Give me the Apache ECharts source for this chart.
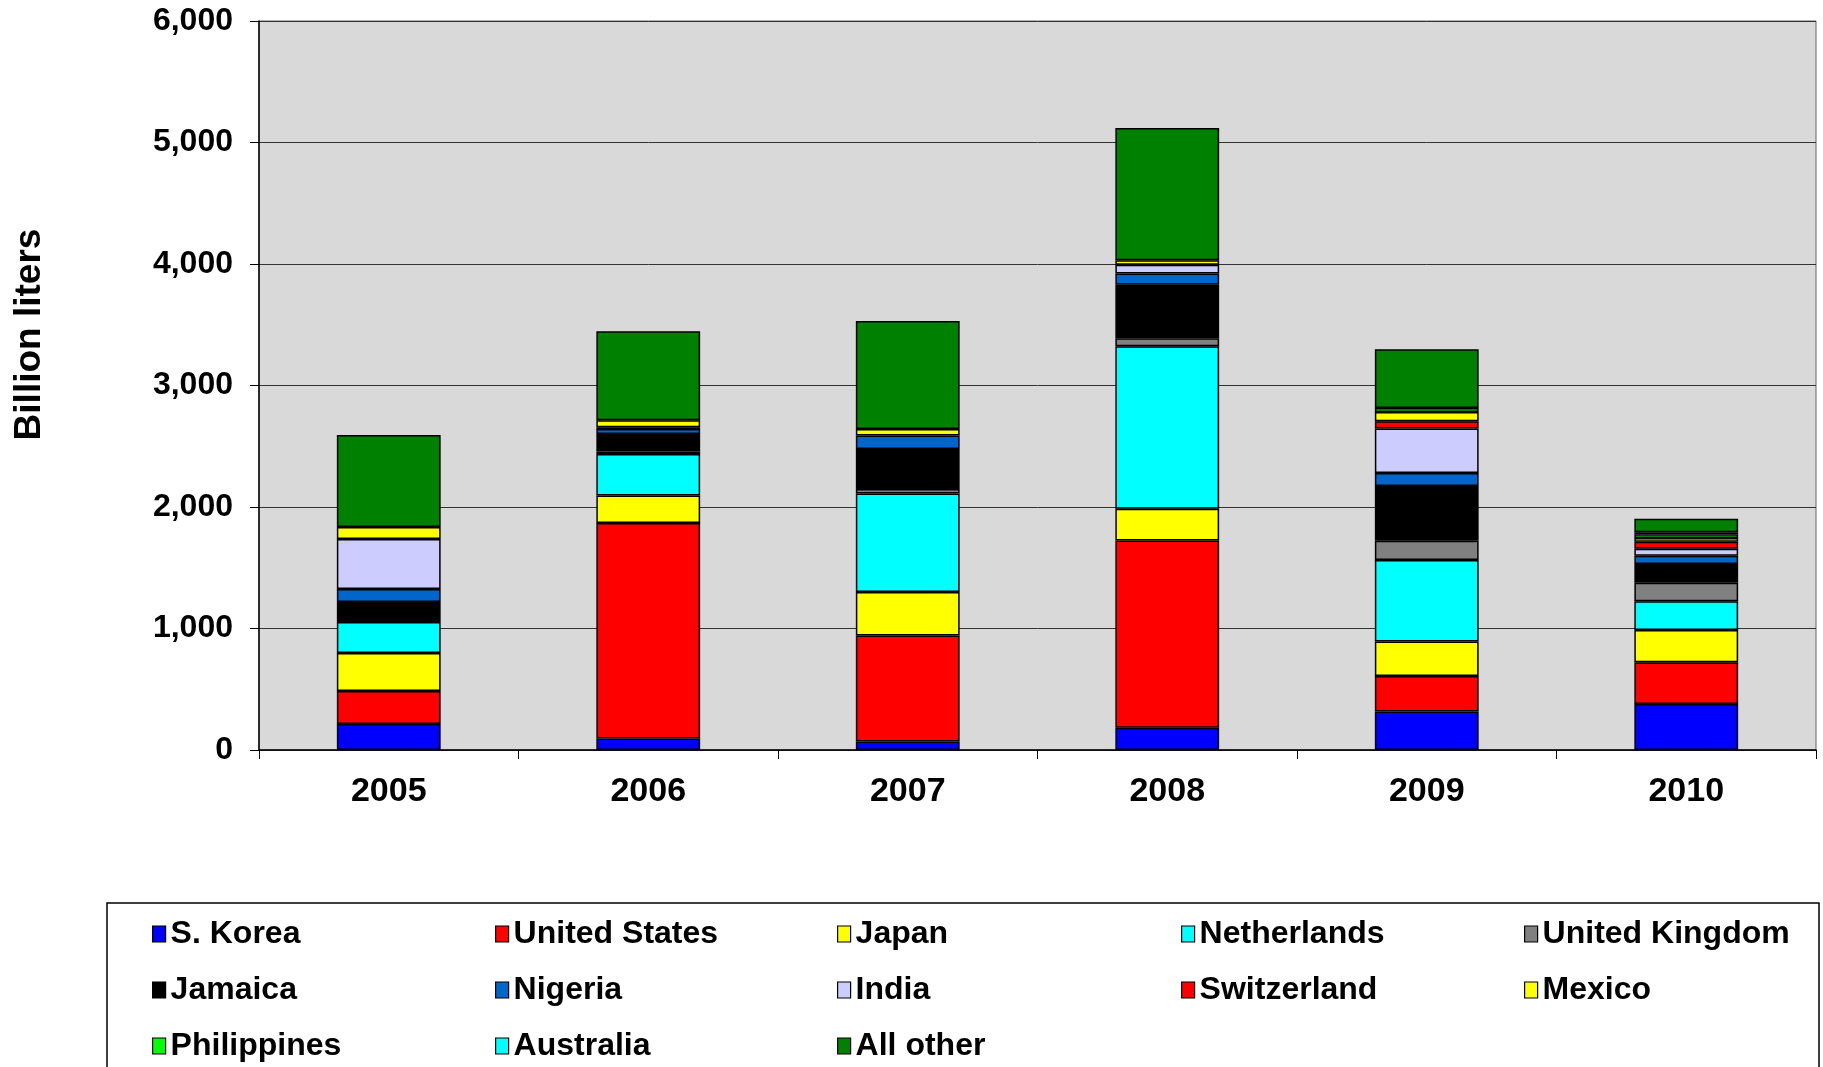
<!DOCTYPE html>
<html>
<head>
<meta charset="utf-8">
<script src="https://cdn.jsdelivr.net/npm/echarts@6/dist/echarts.min.js"></script>
<style>
html,body{margin:0;padding:0;background:#fff;}
#chart{width:1823px;height:1067px;}
</style>
</head>
<body>
<div id="chart"></div>
<script>
const categories = ['2005', '2006', '2007', '2008', '2009', '2010'];
const yTicks = [0, 1000, 2000, 3000, 4000, 5000, 6000];

const sKorea        = [214, 95, 70, 184, 316, 379];
const unitedStates  = [272, 1773, 872, 1540, 293, 343];
const japan         = [312, 227, 358, 262, 283, 266];
const netherlands   = [255, 341, 811, 1338, 672, 236];
const unitedKingdom = [null, 21, 37, 65, 159, 153];
const jamaica       = [165, 144, 329, 440, 450, 154];
const nigeria       = [107, 41, 111, 93, 107, 68];
const india         = [412, 15, null, 71, 367, 58];
const switzerland   = [null, null, null, null, 58, 58];
const mexico        = [98, 58, 54, 38, 77, 30];
const philippines   = [null, null, null, null, 33, 30];
const australia     = [null, null, null, null, null, 17];
const allOther      = [758, 732, 889, 1088, 483, 112];

const seriesNames = ['S. Korea', 'United States', 'Japan', 'Netherlands', 'United Kingdom',
  'Jamaica', 'Nigeria', 'India', 'Switzerland', 'Mexico', 'Philippines', 'Australia', 'All other'];
const seriesData = [sKorea, unitedStates, japan, netherlands, unitedKingdom,
  jamaica, nigeria, india, switzerland, mexico, philippines, australia, allOther];
const seriesColors = ['#0000FF', '#FF0000', '#FFFF00', '#00FFFF', '#808080',
  '#000000', '#0066CC', '#CCCCFF', '#FF0000', '#FFFF00', '#00FF00', '#00FFFF', '#008000'];

const legendColumns = [
  ['S. Korea', 'Jamaica', 'Philippines'],
  ['United States', 'Nigeria', 'Australia'],
  ['Japan', 'India', 'All other'],
  ['Netherlands', 'Switzerland'],
  ['United Kingdom', 'Mexico']
];
const legendLeft = [147, 490, 832, 1176, 1519];

const FONT = 'Liberation Sans, Arial, sans-serif';

const chart = echarts.init(document.getElementById('chart'));

const series = seriesNames.map((name, i) => ({
  name: name,
  type: 'bar',
  stack: 'total',
  barWidth: '40%',
  data: seriesData[i],
  itemStyle: { color: seriesColors[i], borderColor: '#000', borderWidth: 1.5 },
  emphasis: { disabled: true },
  animation: false
}));

const legends = legendColumns.map((col, i) => ({
  data: col,
  orient: 'vertical',
  left: legendLeft[i],
  top: 913,
  itemWidth: 13,
  itemHeight: 16,
  itemGap: 24,
  selectedMode: false,
  icon: 'rect',
  itemStyle: { borderColor: '#000', borderWidth: 1.2 },
  textStyle: { fontFamily: FONT, fontWeight: 'bold', fontSize: 32, color: '#000', lineHeight: 32, padding: [0, 0, 0, 0] }
}));

chart.setOption({
  animation: false,
  backgroundColor: '#fff',
  grid: {
    left: 259, right: 7, top: 21, bottom: 317,
    outerBoundsMode: 'none',
    containLabel: false,
    show: true, backgroundColor: '#D9D9D9', borderColor: '#666', borderWidth: 1
  },
  legend: legends,
  graphic: [{
    type: 'rect',
    shape: { x: 107, y: 903, width: 1712, height: 200 },
    style: { fill: 'none', stroke: '#000', lineWidth: 1.5 },
    silent: true
  }],
  xAxis: {
    type: 'category',
    data: categories,
    boundaryGap: true,
    axisLine: { lineStyle: { color: '#000', width: 1.5 } },
    axisTick: { show: true, length: 9, lineStyle: { color: '#000', width: 1 } },
    axisLabel: { fontFamily: FONT, fontWeight: 'bold', fontSize: 34, color: '#000', margin: 25 }
  },
  yAxis: {
    type: 'value',
    min: yTicks[0],
    max: yTicks[yTicks.length - 1],
    interval: 1000,
    name: 'Billion liters',
    nameLocation: 'middle',
    nameRotate: 90,
    nameGap: 211,
    nameTextStyle: { fontFamily: FONT, fontWeight: 'bold', fontSize: 37, color: '#000', padding: [0, 0, 0, 102] },
    axisLine: { show: true, lineStyle: { color: '#000', width: 1.5 } },
    axisTick: { show: true, length: 9, lineStyle: { color: '#000', width: 1 } },
    splitLine: { show: true, lineStyle: { color: '#333', width: 1 } },
    axisLabel: {
      fontFamily: FONT, fontWeight: 'bold', fontSize: 32, color: '#000', margin: 26,
      formatter: v => v.toLocaleString('en-US')
    }
  },
  series: series
});
</script>
</body>
</html>
